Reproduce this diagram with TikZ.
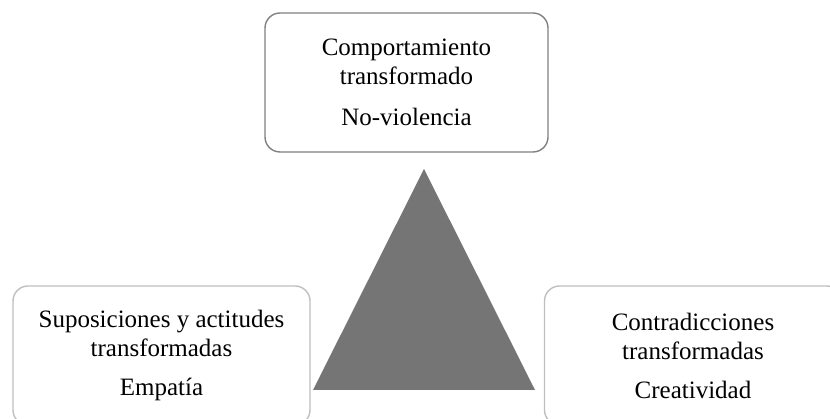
\documentclass[tikz,border=0pt]{standalone}
\usepackage{fontspec}
\setmainfont{Liberation Serif}
\usepackage{tikz}
\usetikzlibrary{positioning}

\begin{document}
\begin{tikzpicture}[
  x=1pt, y=1pt,
  stage/.style={
    rectangle,
    rounded corners=15pt,
    draw=#1,
    fill=white,
    line width=1.4pt,
    minimum width=297pt,
    minimum height=139pt,
    align=center,
    font=\fontsize{25}{29}\selectfont
  },
  wedge/.style={fill=black!54}
]
\useasboundingbox (0,0) rectangle (830,419);
\clip (0,0) rectangle (830,419);

% ===================== Top =====================
\node[stage=gray, minimum width=283pt] (behav) at (406.5, 336.5)
  {Comportamiento\\transformado\\[12pt]No-violencia};

% ===================== Triangle =====================
\coordinate (apex)  at (424, 250);
\coordinate (left)  at (313, 29);
\coordinate (right) at (535, 29);
\fill[wedge] (apex) -- (right) -- (left) -- cycle;

% ===================== Bottom =====================
\node[stage=gray!50] (attit) at (161.5, 63.5)
  {Suposiciones y actitudes\\transformadas\\[10pt]Empatía};
\node[stage=gray!50] (contr) at (693, 63.5)
  {Contradicciones\\transformadas\\[10pt]Creatividad};

\end{tikzpicture}
\end{document}
